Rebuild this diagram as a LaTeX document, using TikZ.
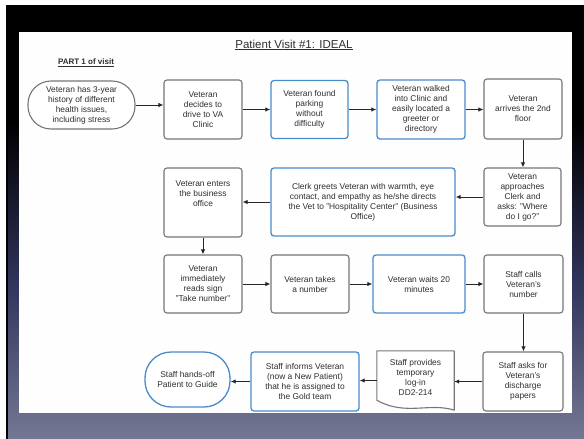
\documentclass[tikz,border=0pt]{standalone}
\usepackage{fontspec}
\setmainfont{Liberation Sans}
\usetikzlibrary{arrows.meta,calc}
\definecolor{boxgray}{HTML}{767676}
\definecolor{boxblue}{HTML}{4A8BCB}
\definecolor{txt}{HTML}{2E2E2E}
\definecolor{bgmid}{HTML}{30335A}
\definecolor{bgbot}{HTML}{747894}
\begin{document}
\begin{tikzpicture}[x=1pt,y=-1pt,
  box/.style={draw=boxgray, line width=1.1pt, rounded corners=3pt, fill=white, align=center,
    font=\fontsize{8.4}{10}\selectfont, text=txt, inner sep=0pt},
  bluebox/.style={box, draw=boxblue, line width=1.3pt},
  plaintext/.style={align=center, font=\fontsize{8.4}{10}\selectfont, text=txt, inner sep=0pt},
  arr/.style={draw=black!85, line width=1pt, -{Latex[length=5pt,width=4.5pt]}}]
\useasboundingbox (0,0) rectangle (584,439);
% background
\fill[white] (0,0) rectangle (584,439);
\fill[black] (6,5) rectangle (584,121);
\shade[top color=black, bottom color=bgmid] (6,120) rectangle (584,281);
\shade[top color=bgmid, bottom color=bgbot] (6,280) rectangle (584,439);
\fill[black] (6,5) rectangle (8,439);
\fill[white!99!gray] (19,32) rectangle (572,413);
% titles
\node[font=\fontsize{11.5}{13}\selectfont, text=txt] (title) at (294,45) {\underline{Patient Visit \#1: IDEAL}};
\node[font=\bfseries\fontsize{8}{10}\selectfont, text=txt] (part) at (86,63) {\underline{PART 1 of visit}};
% row 1
\node[box, rounded corners=23pt, minimum width=107pt, minimum height=48pt] (n1) at (81.5,105) {Veteran has 3-year\\history of different\\health issues,\\including stress};
\node[box, minimum width=78pt, minimum height=59pt] (n2) at (203,109.5) {Veteran\\decides to\\drive to VA\\Clinic};
\node[bluebox, minimum width=77pt, minimum height=58pt] (n3) at (309.5,109.5) {Veteran found\\parking\\without\\difficulty};
\node[bluebox, minimum width=88pt, minimum height=59pt] (n4) at (421,109.5) {Veteran walked\\into Clinic and\\easily located a\\greeter or\\directory};
\node[box, minimum width=78pt, minimum height=60pt] (n5) at (523,109) {Veteran\\arrives the 2nd\\floor};
% row 2
\node[box, minimum width=77pt, minimum height=58pt] (n6) at (522.5,197) {Veteran\\approaches\\Clerk and\\asks: "Where\\do I go?"};
\node[bluebox, minimum width=184pt, minimum height=68pt] (n7) at (363,202) {Clerk greets Veteran with warmth, eye\\contact, and empathy as he/she directs\\the Vet to "Hospitality Center" (Business\\Office)};
\node[box, minimum width=78pt, minimum height=69pt] (n8) at (203,202.5) {Veteran enters\\the business\\office\\[8pt]};
% row 3
\node[box, minimum width=78pt, minimum height=58pt] (n9) at (203,284) {Veteran\\immediately\\reads sign\\"Take number"};
\node[box, minimum width=78pt, minimum height=58pt] (n10) at (310,284) {Veteran takes\\a number};
\node[bluebox, minimum width=92pt, minimum height=58pt] (n11) at (419,284) {Veteran waits 20\\minutes};
\node[box, minimum width=79pt, minimum height=58pt] (n12) at (523.5,284) {Staff calls\\Veteran's\\number};
% row 4
\node[box, minimum width=80pt, minimum height=59pt] (n13) at (523,381.5) {Staff asks for\\Veteran's\\discharge\\papers};
\node[inner sep=0pt, minimum width=77pt, minimum height=59pt] (n14) at (415.5,380.5) {};
\draw[draw=boxgray, line width=1.1pt, fill=white, line join=round]
  (n14.north west) -- (n14.north east) -- (n14.south east)
  .. controls ($(n14.south east)+(-24,-8)$) and ($(n14.south west)+(28,6)$) .. ($(n14.south west)+(0,-10)$) -- cycle;
\node[plaintext] (n14t) at (415.5,377) {Staff provides\\temporary\\log-in\\DD2-214};
\node[bluebox, minimum width=108pt, minimum height=59pt] (n15) at (305,381.5) {Staff informs Veteran\\(now a New Patient)\\that he is assigned to\\the Gold team};
\node[bluebox, rounded corners=26pt, minimum width=85pt, minimum height=55pt] (n16) at (187.5,379.5) {Staff hands-off\\Patient to Guide};
% connectors
\draw[arr] (n1.east) -- (n1.east -| n2.west);
\draw[arr] (n2.east) -- (n2.east -| n3.west);
\draw[arr] (n3.east) -- (n3.east -| n4.west);
\draw[arr] (n4.east) -- (n4.east -| n5.west);
\draw[arr] (n5.south) -- (n5.south |- n6.north);
\draw[arr] (n6.west) -- (n6.west -| n7.east);
\draw[arr] (n7.west) -- (n7.west -| n8.east);
\draw[arr] (n8.south) -- (n8.south |- n9.north);
\draw[arr] (n9.east) -- (n9.east -| n10.west);
\draw[arr] (n10.east) -- (n10.east -| n11.west);
\draw[arr] (n11.east) -- (n11.east -| n12.west);
\draw[arr] (n12.south) -- (n12.south |- n13.north);
\draw[arr] (n13.west) -- (n13.west -| n14.east);
\draw[arr] (n14.west) -- (n14.west -| n15.east);
\draw[arr] (n15.west) -- (n15.west -| n16.east);
\end{tikzpicture}
\end{document}
